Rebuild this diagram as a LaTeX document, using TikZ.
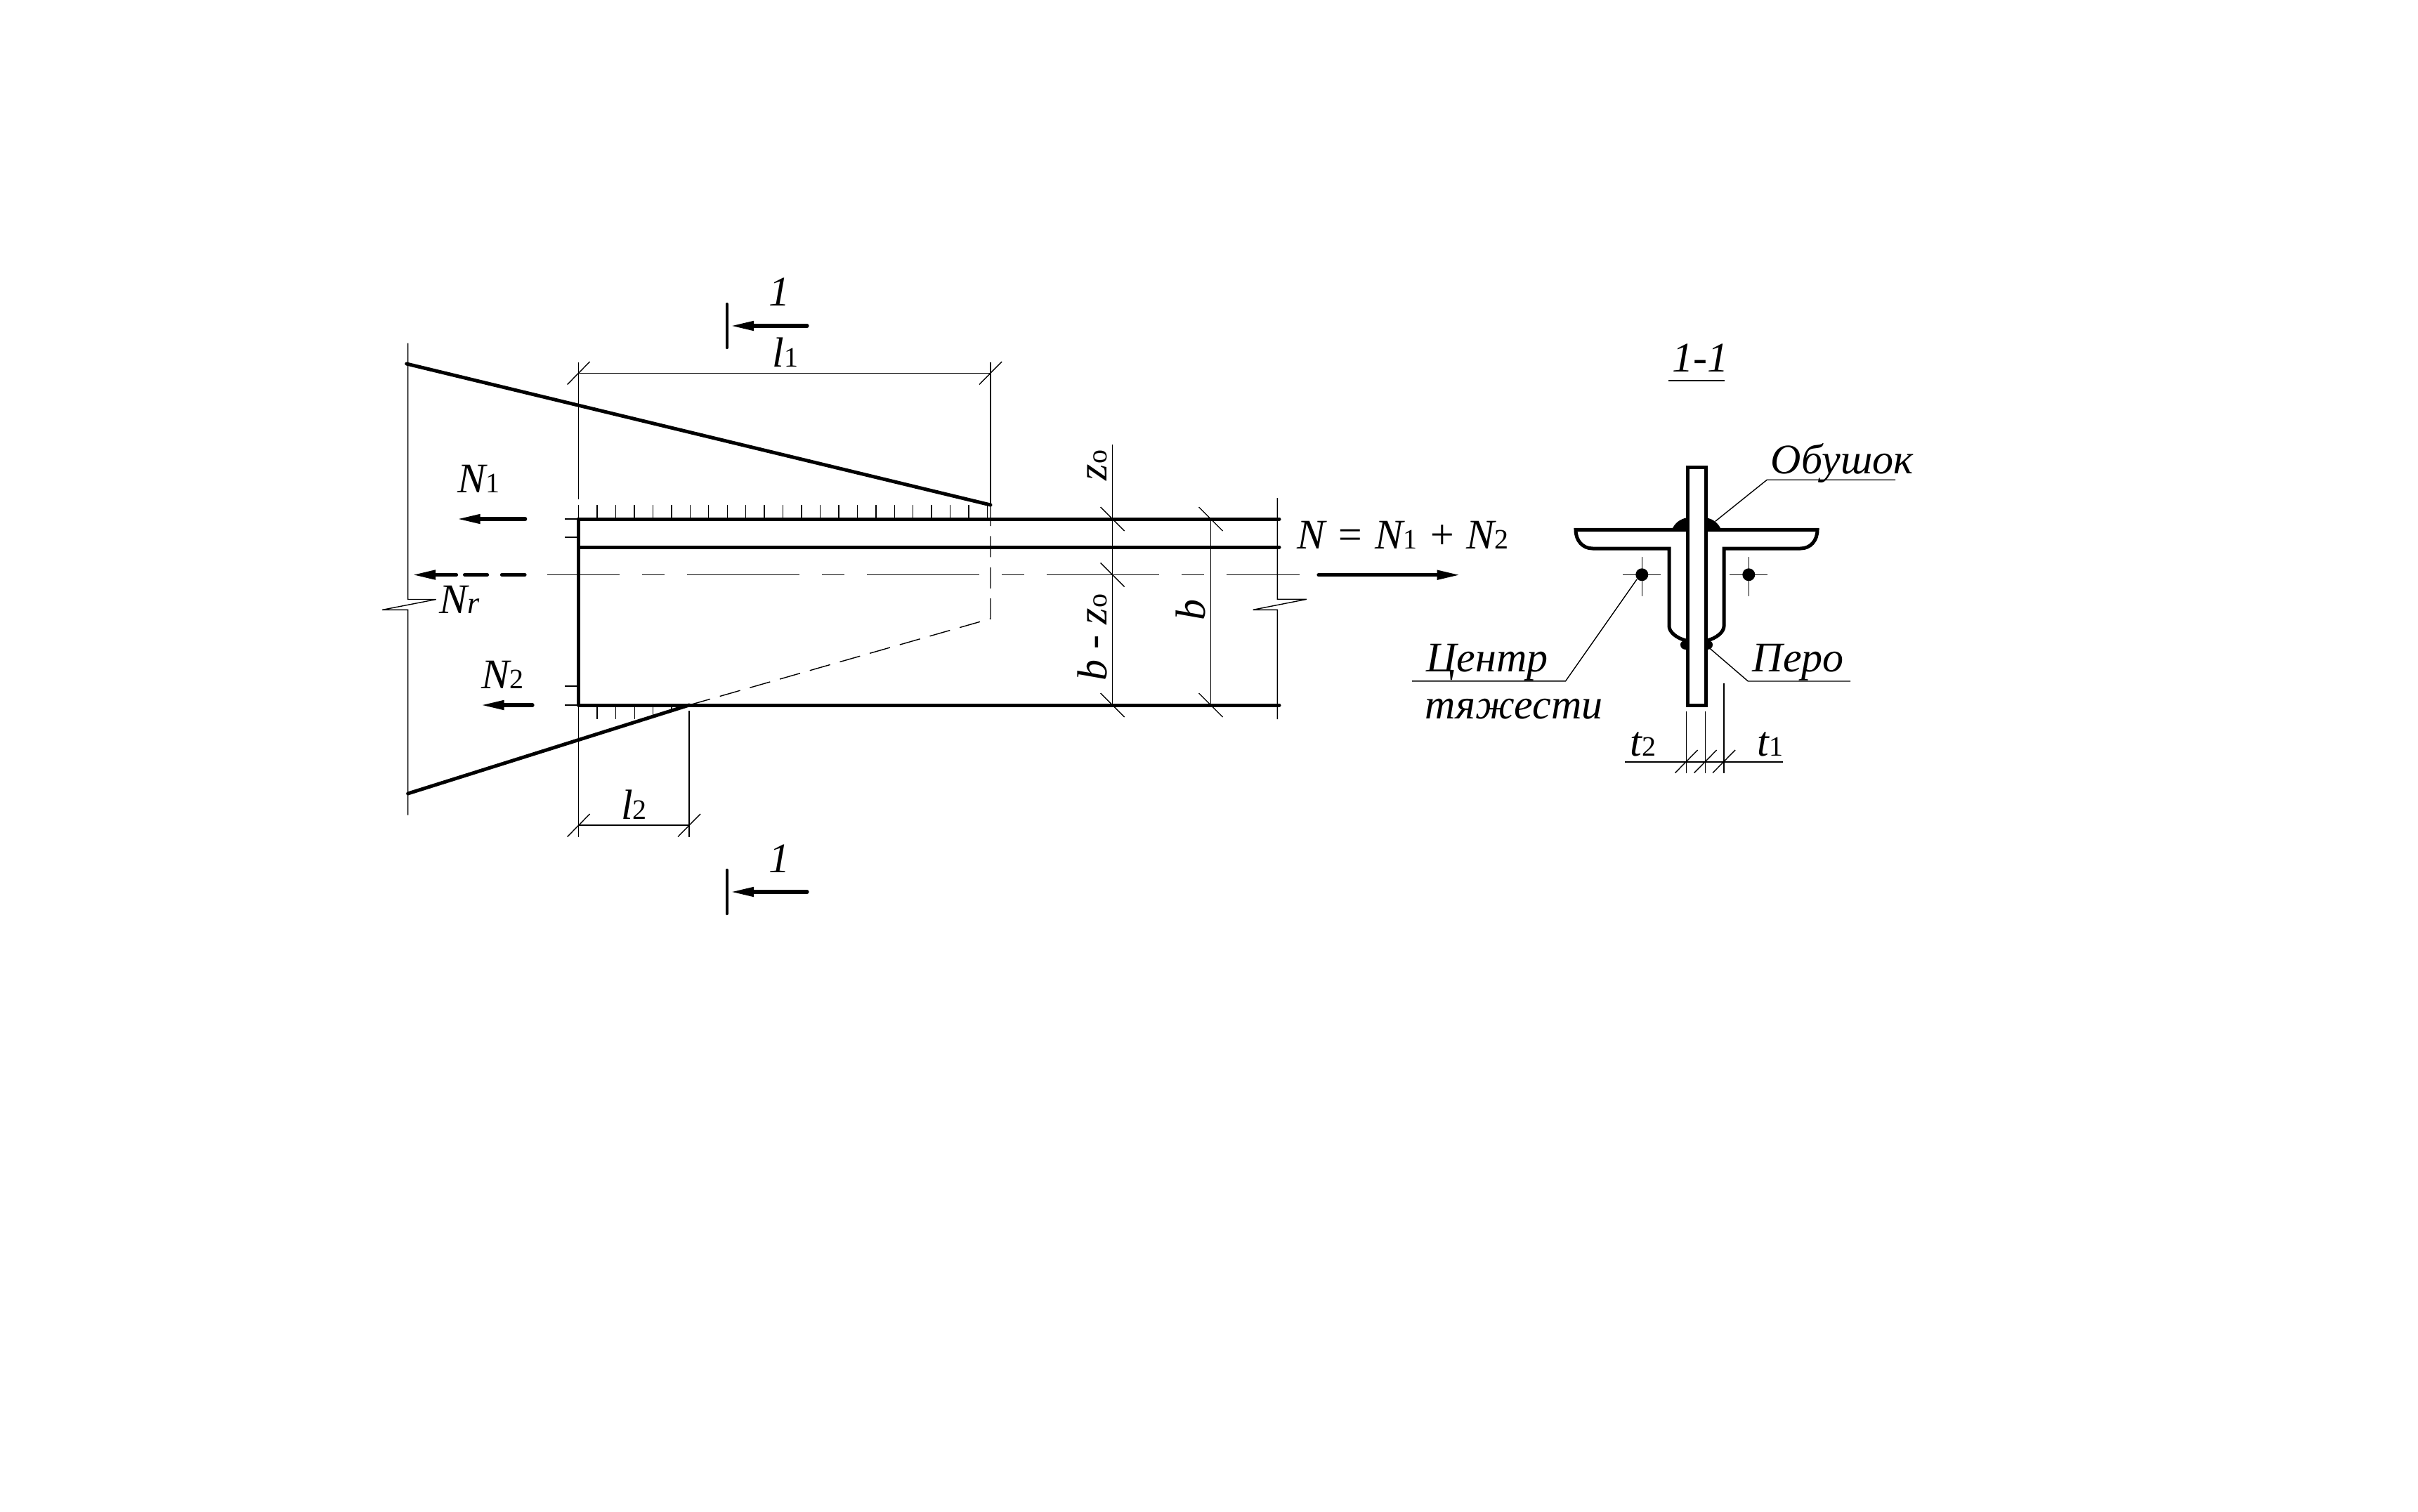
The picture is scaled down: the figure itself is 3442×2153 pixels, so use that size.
\documentclass[tikz,border=0pt]{standalone}
\usepackage{fontspec}
\setmainfont{Liberation Serif}
\usetikzlibrary{arrows.meta}
\newcommand{\sbs}[1]{{\upshape\fontsize{10}{10}\selectfont #1}}
\begin{document}
\begin{tikzpicture}[x=0.25pt, y=-0.25pt,
        thinln/.style = {line width=0.35pt},
        thickln/.style = {line width=1.25pt, line cap=round},
        frc/.style = {line width=1.3pt, line cap=round, -{Triangle[length=8.25pt, width=3.2pt]}},
        lbl/.style = {inner sep=0pt, anchor=base west, font=\fontsize{15}{18}\selectfont\itshape},
        lblup/.style = {lbl, rotate=90}]
    \useasboundingbox (0,0) rectangle (3442,2153);

    \coordinate (topA) at (578.7,518);
    \coordinate (topB) at (1410,719);
    \coordinate (botA) at (580.6,1130);
    \coordinate (botB) at (981,1004);

    \draw[thinln] (580.6,488.6) -- (580.6,853.5) -- (620.8,853.5) -- (544.2,868.4) -- (580.6,868.4) -- (580.6,1160.5);
    \draw[thinln] (823.6,516) -- (823.6,710.5);
    \draw[thinln] (1410,516) -- (1410,719);
    \draw[thinln] (823.6,531.5) -- (1410,531.5);
    \foreach \xx in {823.6,1410}
        \draw[thinln] (\xx-16,547.5) -- (\xx+16,515);
    \foreach \i in {0,...,22}
        \draw[thinln] ({823.6+26.45*\i},719) -- ({823.6+26.45*\i},739);
    \foreach \yy in {739,765,977,1004}
        \draw[thinln] (804,\yy) -- (823.6,\yy);
    \draw[thinln, dash pattern=on 7.5pt off 3.6pt] (topB) -- (1410,881) -- (botB);
    \draw[thinln, dash pattern=on 40pt off 8pt on 8pt off 8pt, dash phase=14.25pt] (779,818.5) -- (1850,818.5);

    \draw[thinln] (823.6,1004) -- (823.6,1191.5);
    \foreach \xx/\yy in {850/1024,876.5/1024,903.3/1024,929.7/1020,955.8/1012}
        \draw[thinln] (\xx,1004) -- (\xx,\yy);
    \draw[thinln] (981,1012) -- (981,1191.5);
    \draw[thinln] (823.6,1175) -- (981,1175);
    \foreach \xx in {823.6,981}
        \draw[thinln] (\xx-16,1191.5) -- (\xx+16,1159);

    \draw[thinln] (1583.7,633) -- (1583.7,1004);
    \draw[thinln] (1723.5,739) -- (1723.5,1004);
    \draw[thinln] (1818.4,709) -- (1818.4,853.3) -- (1860,853.3) -- (1783.7,868.3) -- (1818.4,868.3) -- (1818.4,1024);
    \foreach \xx/\yy in {1583.7/739,1583.7/818.5,1583.7/1004,1723.5/739,1723.5/1004}
        \draw[thinln] (\xx-17,\yy-17) -- (\xx+17,\yy+17);

    \draw[thickln] (topA) -- (topB);
    \draw[thickln] (botA) -- (botB);
    \draw[thickln] (823.6,739) -- (1821,739);
    \draw[thickln] (823.6,779) -- (1821,779);
    \draw[thickln] (823.6,1004) -- (1821,1004);
    \draw[thickln] (823.6,739) -- (823.6,1004);

    \foreach \yy in {464,1270} {
        \draw[thickln, line width=1.1pt] (1034.7,\yy-31) -- (1034.7,\yy+31);
        \draw[frc] (1149,\yy) -- (1040,\yy);
    }
    \draw[frc] (747.7,739) -- (650.7,739);
    \draw[frc] (758,1004) -- (684.5,1004);
    \draw[frc] (649.5,818.5) -- (587,818.5);
    \draw[thickln, line width=1.3pt] (661.6,818.5) -- (693.5,818.5);
    \draw[thickln, line width=1.3pt] (714.5,818.5) -- (747,818.5);
    \draw[frc] (1877,818.7) -- (2078.6,818.7);

    \node[lbl] (secT) at (1094,435) {1};
    \node[lbl] (secB) at (1094,1242) {1};
    \node[lbl] (lenA) at (1099,522) {l\sbs{1}};
    \node[lbl] (lenB) at (883.5,1166) {l\sbs{2}};
    \node[lbl] (frcA) at (650.7,701) {N\sbs{1}};
    \node[lbl] (frcB) at (684.5,980) {N\sbs{2}};
    \node[lbl] (frcR) at (625,873.6) {N{\fontsize{11}{11}\selectfont r}};
    \node[lbl] (frcN) at (1846,781) {N = N\sbs{1} + N\sbs{2}};
    \node[lblup] (zed) at (1575,685) {z\sbs{o}};
    \node[lblup] (bzed) at (1575,970) {b - z\sbs{o}};
    \node[lblup] (wid) at (1715,884) {b};

    \node[lbl] (title) at (2380,529) {1-1};
    \draw[thinln] (2375,542) -- (2455,542);

    \draw[thickln, line cap=butt] (2402,665) rectangle (2428,1004);
    \foreach \s in {1,-1} {
        \begin{scope}[shift={(2415,0)}, xscale=\s]
            \fill (13,737) .. controls (24,739) and (31,745) .. (35,754) -- (13,754) -- cycle;
            \fill (15,912) .. controls (21,912) and (23,915) .. (23,918) .. controls (23,922) and (20,925) .. (15,925) -- cycle;
            \draw[thickln, line cap=butt] (13,754.3) -- (172,754.3) .. controls (172,770) and (162,781) .. (148,781) -- (39,781) -- (39,891.7) .. controls (39,900) and (28,909) .. (15,912);
        \end{scope}
    }
    \foreach \xx in {2337.3,2489.3} {
        \fill (\xx,818.3) circle [radius=9];
        \draw[thinln] (\xx-27,818.3) -- (\xx+27,818.3);
        \draw[thinln] (\xx,793) -- (\xx,849);
    }

    \node[lbl] (obu) at (2520,674) {Обушок};
    \node[lbl] (per) at (2494,956.7) {Перо};
    \node[lbl] (cen) at (2029.6,956) {Центр};
    \node[lbl] (tya) at (2028,1023) {тяжести};
    \node[lbl] (tt) at (2320,1076) {t\sbs{2}};
    \node[lbl] (to) at (2501,1076) {t\sbs{1}};

    \coordinate (obuA) at (2441.7,742.3);
    \coordinate (obuB) at (2515.3,683.2);
    \coordinate (perA) at (2434,923.3);
    \coordinate (perB) at (2488.3,970);
    \coordinate (cenA) at (2330,825);
    \coordinate (cenB) at (2228.6,969.8);
    \draw[thinln] (obuA) -- (obuB) -- (2698,683.2);
    \draw[thinln] (perA) -- (perB) -- (2634,970);
    \draw[thinln] (cenA) -- (cenB) -- (2010,969.8);

    \draw[thinln] (2400.5,1012.7) -- (2400.5,1100.6);
    \draw[thinln] (2427.6,1012.7) -- (2427.6,1100.6);
    \draw[thinln] (2454,972.5) -- (2454,1100.6);
    \draw[thinln] (2312.8,1085) -- (2538,1085);
    \foreach \xx in {2400.5,2427.6,2454}
        \draw[thinln] (\xx-16,1100.6) -- (\xx+16,1068);
\end{tikzpicture}
\end{document}
